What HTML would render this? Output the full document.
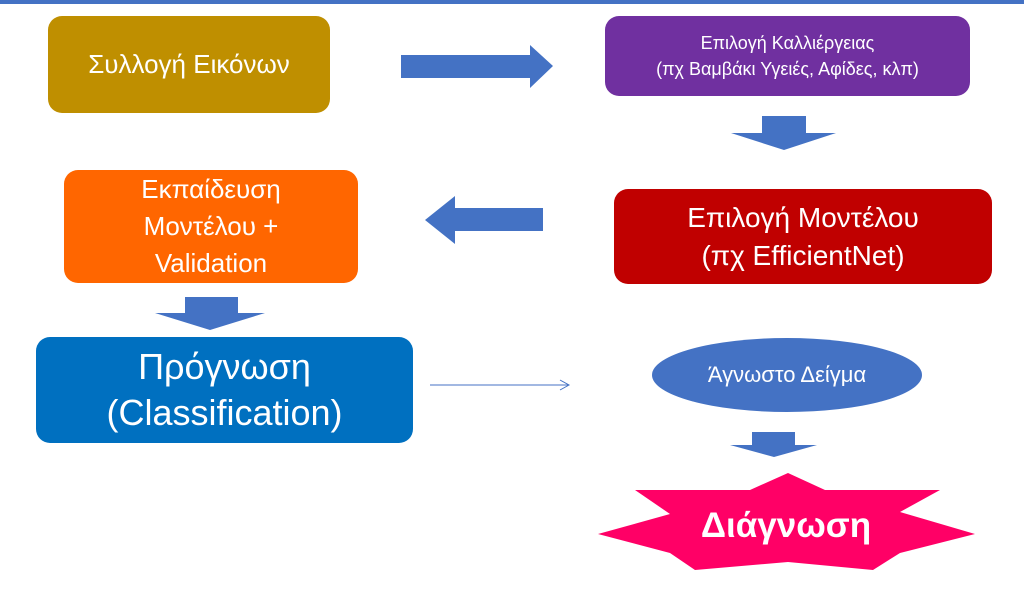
<!DOCTYPE html>
<html><head><meta charset="utf-8"><style>
body{margin:0;width:1024px;height:601px;background:#fff;overflow:hidden;position:relative;font-family:"Liberation Sans","DejaVu Sans",sans-serif}
.b{position:absolute;border-radius:14px;color:#fff;display:flex;align-items:center;justify-content:center;text-align:center}
</style></head><body>
<div style="position:absolute;left:0;top:0;width:1024px;height:4px;background:#4472c4"></div>
<div class="b" style="left:48px;top:16px;width:282px;height:97px;background:#bf8f00;font-size:26px">Συλλογή Εικόνων</div>
<div class="b" style="left:605px;top:16px;width:365px;height:80px;background:#7030a0;font-size:18px;line-height:26px">Επιλογή Καλλιέργειας<br>(πχ Βαμβάκι Υγειές, Αφίδες, κλπ)</div>
<div class="b" style="left:64px;top:170px;width:294px;height:113px;background:#ff6600;font-size:26px;line-height:37px">Εκπαίδευση<br>Μοντέλου +<br>Validation</div>
<div class="b" style="left:614px;top:189px;width:378px;height:95px;background:#c00000;font-size:28px;line-height:38px">Επιλογή Μοντέλου<br>(πχ EfficientNet)</div>
<div class="b" style="left:36px;top:337px;width:377px;height:106px;background:#0070c0;font-size:36px;line-height:46px">Πρόγνωση<br>(Classification)</div>
<svg width="1024" height="601" style="position:absolute;left:0;top:0">
<g fill="#4472c4">
<polygon points="401,55 530,55 530,45 553,66 530,88 530,78 401,78"/>
<polygon points="762,116 806,116 806,133 836,133 784,150 731,133 762,133"/>
<polygon points="543,208 455,208 455,196 425,220 455,244 455,231 543,231"/>
<polygon points="185,297 238,297 238,313 265,313 210,330 155,313 185,313"/>
<polygon points="752,432 795,432 795,445 817,445 774,457 730,445 752,445"/>
<ellipse cx="787" cy="375" rx="135" ry="37"/>
</g>
<line x1="430" y1="385" x2="568" y2="385" stroke="#4472c4" stroke-width="1"/>
<polyline points="560,380 569,385 560,390" fill="none" stroke="#4472c4"/>
<text x="787" y="382" fill="#fff" font-size="22" text-anchor="middle" font-family="Liberation Sans,sans-serif">Άγνωστο Δείγμα</text>
<polygon fill="#ff0066" points="788,473 825,490 940,490 900,512 975,534 900,553 873,570 788,562 695,570 670,553 598,534 670,514 635,490 750,490"/>
<text x="786" y="537" fill="#fff" font-size="35" font-weight="bold" text-anchor="middle" font-family="Liberation Sans,sans-serif">Διάγνωση</text>
</svg>
</body></html>
